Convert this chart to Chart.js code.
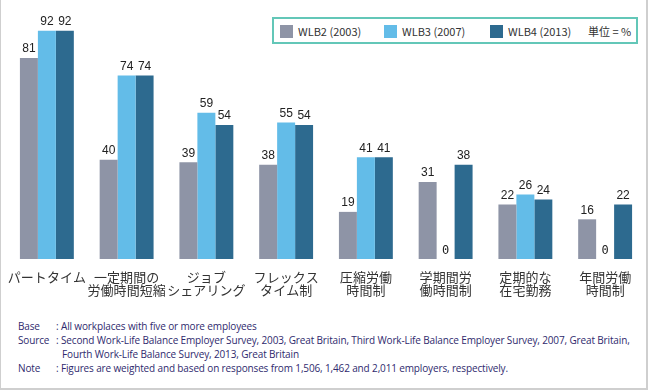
<!DOCTYPE html>
<html>
<head>
<meta charset="utf-8">
<script src="https://cdn.jsdelivr.net/npm/chart.js@4.4.1/dist/chart.umd.min.js"></script>
<style>
  html, body { margin: 0; padding: 0; background: #fff; }
  #wrap {
    position: relative; width: 648px; height: 390px; overflow: hidden;
    box-sizing: border-box;
    border-left: 1px solid #cfcfcf; border-right: 2px solid #cfcfcf; border-bottom: 2px solid #cfcfcf;
  }
  #chart { position: absolute; left: -1px; top: 0; }
  #legend {
    position: absolute; left: 271px; top: 17px; width: 366px; height: 27px;
    box-sizing: border-box; border: 2px solid #63c7b8; background: #fff;
    font-family: 'Noto Sans CJK JP', sans-serif; font-size: 11px; color: #333;
  }
  #legend .item { position: absolute; top: 5px; height: 14px; line-height: 14px; white-space: nowrap; }
  #legend .sw { display: inline-block; width: 13px; height: 13px; vertical-align: -2px; margin-right: 5px; }
  .note {
    position: absolute; font-family: 'Open Sans', sans-serif; font-size: 10px; color: #2f2a6e;
    white-space: nowrap; line-height: 14px; letter-spacing: -0.14px;
  }
</style>
</head>
<body>
<div id="wrap">
  <canvas id="chart" width="648" height="310"></canvas>
  <div id="legend"></div>
  <div class="note" style="left:17px; top:319px;">Base</div>
  <div class="note" style="left:55px; top:319px;">: All workplaces with five or more employees</div>
  <div class="note" style="left:17px; top:333px;">Source</div>
  <div class="note" style="left:55px; top:333px;">: Second Work-Life Balance Employer Survey, 2003, Great Britain, Third Work-Life Balance Employer Survey, 2007, Great Britain,</div>
  <div class="note" style="left:61px; top:347px;">Fourth Work-Life Balance Survey, 2013, Great Britain</div>
  <div class="note" style="left:17px; top:361px;">Note</div>
  <div class="note" style="left:55px; top:361px;">: Figures are weighted and based on responses from 1,506, 1,462 and 2,011 employers, respectively.</div>
</div>
<script>
const categories = [
  ['パートタイム'],
  ['一定期間の', '労働時間短縮'],
  ['ジョブ', 'シェアリング'],
  ['フレックス', 'タイム制'],
  ['圧縮労働', '時間制'],
  ['学期間労', '働時間制'],
  ['定期的な', '在宅勤務'],
  ['年間労働', '時間制'],
];
const seriesNames = ['WLB2 (2003)', 'WLB3 (2007)', 'WLB4 (2013)'];
const wlb2 = [81, 40, 39, 38, 19, 31, 22, 16];
const wlb3 = [92, 74, 59, 55, 41, 0, 26, 0];
const wlb4 = [92, 74, 54, 54, 41, 38, 24, 22];
const unitLabel = '単位 = %';

const COLORS = ['#8e94a6', '#63bce8', '#2d6a8f'];

// legend (html, positioned like the reference box)
const legend = document.getElementById('legend');
const legendX = [6, 110, 216];
seriesNames.forEach((name, i) => {
  const d = document.createElement('div');
  d.className = 'item';
  d.style.left = legendX[i] + 'px';
  d.innerHTML = '<span class="sw" style="background:' + COLORS[i] + '"></span>' + name;
  legend.appendChild(d);
});
const unit = document.createElement('div');
unit.className = 'item';
unit.style.left = '314px';
unit.textContent = unitLabel;
legend.appendChild(unit);

// value labels above the bars, slashed zero at the base for missing data
const valueLabels = {
  id: 'valueLabels',
  afterDatasetsDraw(chart) {
    const ctx = chart.ctx;
    const base = chart.scales.y.getPixelForValue(0);
    ctx.save();
    ctx.textAlign = 'center';
    ctx.textBaseline = 'bottom';
    ctx.fillStyle = '#222';
    chart.data.datasets.forEach((ds, di) => {
      const meta = chart.getDatasetMeta(di);
      ds.data.forEach((v, i) => {
        const bar = meta.data[i];
        if (v === 0) {
          ctx.font = '12px "DejaVu Sans Mono", monospace';
          ctx.fillText('0', bar.x, base - 2);
        } else {
          ctx.font = '12px "Liberation Sans", Arial, sans-serif';
          ctx.fillText(String(v), bar.x, bar.y - 3);
        }
      });
    });
    ctx.restore();
  },
};

new Chart(document.getElementById('chart'), {
  type: 'bar',
  data: {
    labels: categories,
    datasets: [
      { label: seriesNames[0], data: wlb2, backgroundColor: COLORS[0] },
      { label: seriesNames[1], data: wlb3, backgroundColor: COLORS[1] },
      { label: seriesNames[2], data: wlb4, backgroundColor: COLORS[2] },
    ],
  },
  options: {
    responsive: false,
    animation: false,
    layout: { padding: { left: 7, right: 3, top: 11, bottom: 0 } },
    datasets: {
      bar: { categoryPercentage: 0.676, barPercentage: 1.0 },
    },
    plugins: {
      legend: { display: false },
      tooltip: { enabled: false },
    },
    scales: {
      x: {
        grid: { display: false, drawTicks: false },
        border: { display: false },
        ticks: {
          color: '#333',
          padding: 11,
          maxRotation: 0,
          autoSkip: false,
          font: { family: "'Noto Sans CJK JP', sans-serif", size: 13, lineHeight: 1.04 },
        },
        afterFit: (scale) => {
          scale.height = 51;
          // labels may overhang the first/last category; keep the plot edges fixed
          scale.paddingLeft = 0;
          scale.paddingRight = 0;
        },
      },
      y: {
        display: false,
        min: 0,
        max: 100,
      },
    },
  },
  plugins: [valueLabels],
});
</script>
</body>
</html>
